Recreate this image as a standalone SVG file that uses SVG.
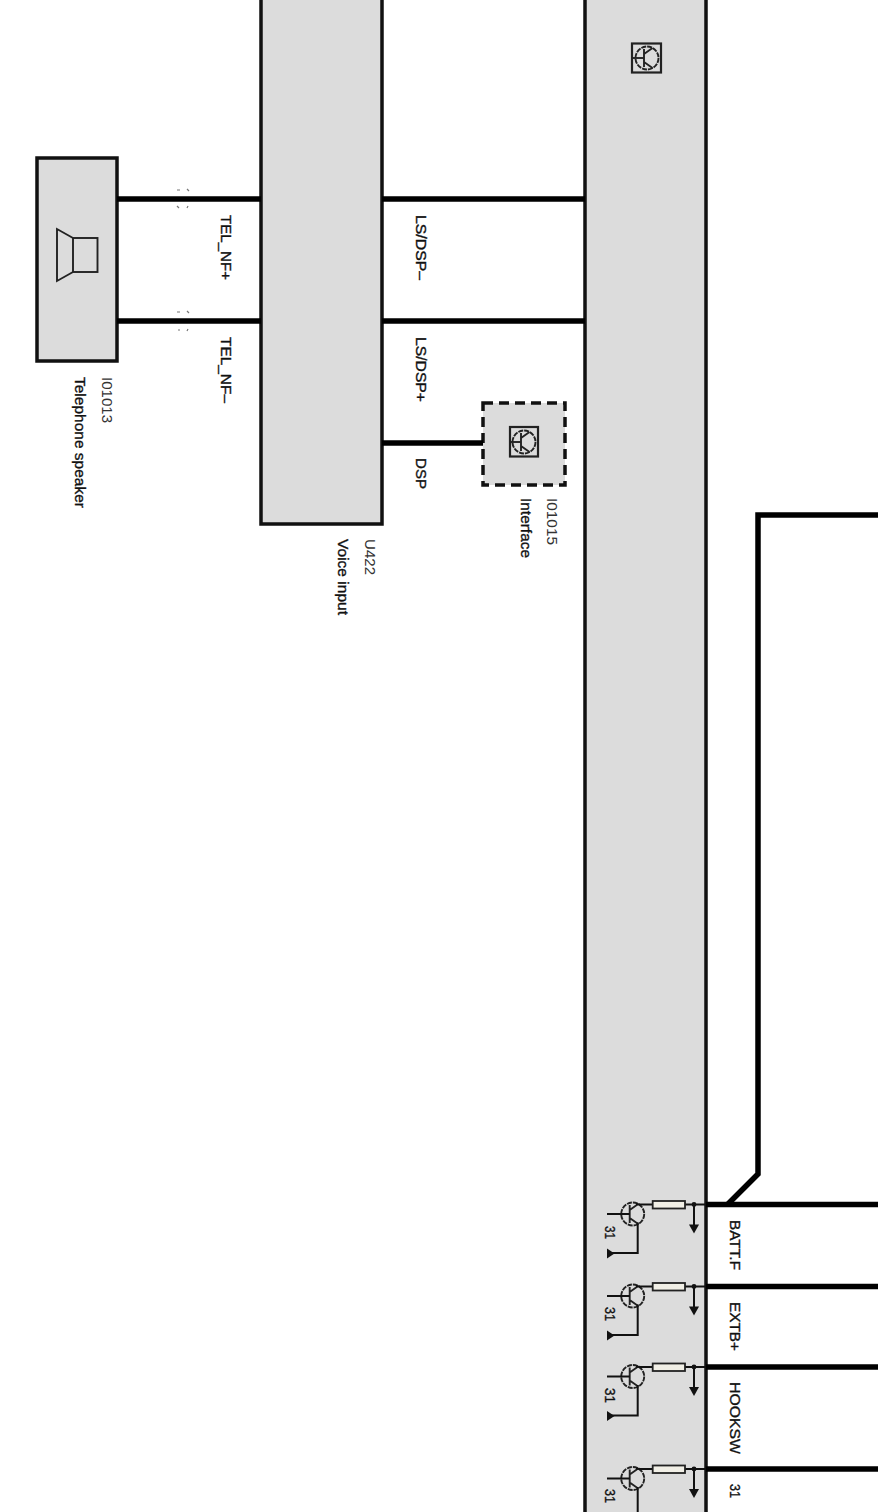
<svg xmlns="http://www.w3.org/2000/svg" width="878" height="1512" viewBox="0 0 878 1512">
<style>
.box{fill:#dcdcdc;stroke:#111;stroke-width:3.5}
.wire{fill:none;stroke:#000;stroke-width:5.5}
.thin{fill:none;stroke:#111;stroke-width:2}
.sym{fill:none;stroke:#222;stroke-width:1.9}
.tick{fill:none;stroke:#777;stroke-width:1.2}
text{font-family:"Liberation Sans",Arial,sans-serif;font-size:15px;fill:#111;stroke:#111;stroke-width:.35}
.id{fill:#333;stroke:none}
</style>
<defs>
<g id="tr">
<circle cx="0" cy="0" r="11.5" class="sym" stroke-dasharray="5 1"/>
<path d="M-3 -9V9M-3 -4L5.5 -10M-3 4L5.5 10" class="sym"/>
</g>
<g id="driver">
<use href="#tr" x="632.7" y="9.5"/>
<path d="M607 9.5H629.7M636 -0.5L640 0H652.7M685 0H706M694 0V21M637.7 18V48.5H611" class="thin"/>
<rect x="652.7" y="-3.5" width="32.3" height="7.5" fill="#f1efe6" stroke="#222" stroke-width="1.8"/>
<circle cx="694" cy="0" r="2.4" fill="#111"/>
<path d="M689 20H699L694 29Z" fill="#111"/>
<path d="M607 44V54L614.500 49Z" fill="#111"/>
</g>
</defs>

<g id="node-control-unit">
<rect x="585" y="-10" width="121" height="1540" class="box"/>
<rect x="632" y="43.500" width="29" height="29" fill="none" stroke="#222" stroke-width="2.200"/>
<use href="#tr" x="647" y="58"/>
<path d="M632.500 58H644" class="sym"/>
</g>

<g id="node-u422">
<rect x="261" y="-10" width="121" height="534" class="box"/>
<text class="id" transform="translate(365 539) rotate(90)" textLength="36" lengthAdjust="spacingAndGlyphs">U422</text>
<text transform="translate(338 539) rotate(90)" textLength="76" lengthAdjust="spacingAndGlyphs">Voice input</text>
</g>

<g id="node-i01013">
<rect x="37" y="158" width="80" height="203" class="box"/>
<rect x="73" y="238" width="24.500" height="34" fill="none" stroke="#222" stroke-width="1.900"/>
<path d="M73 238L57 229V281L73 272" class="sym"/>
<text class="id" transform="translate(102 377) rotate(90)" textLength="46" lengthAdjust="spacingAndGlyphs">I01013</text>
<text transform="translate(75 377) rotate(90)" textLength="131" lengthAdjust="spacingAndGlyphs">Telephone speaker</text>
</g>

<g id="node-i01015">
<rect x="483" y="403" width="82" height="82" fill="#dcdcdc" stroke="#111" stroke-width="3.500" stroke-dasharray="10 6"/>
<rect x="510" y="427" width="28" height="29.500" fill="none" stroke="#222" stroke-width="2.200"/>
<use href="#tr" x="524" y="442"/>
<path d="M510.500 442H521" class="sym"/>
<text class="id" transform="translate(547 498) rotate(90)" textLength="47" lengthAdjust="spacingAndGlyphs">I01015</text>
<text transform="translate(521 498) rotate(90)" textLength="60" lengthAdjust="spacingAndGlyphs">Interface</text>
</g>

<g id="node-drivers">
<use href="#driver" y="1204.500"/>
<use href="#driver" y="1286.500"/>
<use href="#driver" y="1367"/>
<use href="#driver" y="1469"/>
<text transform="translate(605 1226) rotate(90)" textLength="13" lengthAdjust="spacingAndGlyphs">31</text>
<text transform="translate(605 1307) rotate(90)" textLength="14" lengthAdjust="spacingAndGlyphs">31</text>
<text transform="translate(605 1388) rotate(90)" textLength="15" lengthAdjust="spacingAndGlyphs">31</text>
<text transform="translate(605 1489) rotate(90)" textLength="14" lengthAdjust="spacingAndGlyphs">31</text>
</g>

<g id="connectors">
<path d="M117 199H261M117 321H261M382 199H585M382 321H585M382 443H483M706 1204.500H878M706 1286.500H878M706 1367H878M706 1469H878" class="wire"/>
<path d="M728 1204L758 1174V515H878" class="wire" stroke-linejoin="miter"/>
<path d="M177 190h3M187 189l2 2M177 206l2 2M188 206l-1 2M177 312h3M187 311l2 2M178 330h2M188 329l-1 2" class="tick"/>
</g>

<g id="labels">
<text transform="translate(221 215) rotate(90)" textLength="65" lengthAdjust="spacingAndGlyphs">TEL_NF+</text>
<text transform="translate(221 337) rotate(90)" textLength="66" lengthAdjust="spacingAndGlyphs">TEL_NF–</text>
<text transform="translate(416 215) rotate(90)" textLength="65" lengthAdjust="spacingAndGlyphs">LS/DSP–</text>
<text transform="translate(416 337) rotate(90)" textLength="65" lengthAdjust="spacingAndGlyphs">LS/DSP+</text>
<text transform="translate(416 458) rotate(90)" textLength="31" lengthAdjust="spacingAndGlyphs">DSP</text>
<text transform="translate(730 1220) rotate(90)" textLength="50" lengthAdjust="spacingAndGlyphs">BATT.F</text>
<text transform="translate(730 1302) rotate(90)" textLength="49" lengthAdjust="spacingAndGlyphs">EXTB+</text>
<text transform="translate(730 1382) rotate(90)" textLength="72" lengthAdjust="spacingAndGlyphs">HOOKSW</text>
<text transform="translate(730 1484) rotate(90)" textLength="14" lengthAdjust="spacingAndGlyphs">31</text>
</g>
</svg>
